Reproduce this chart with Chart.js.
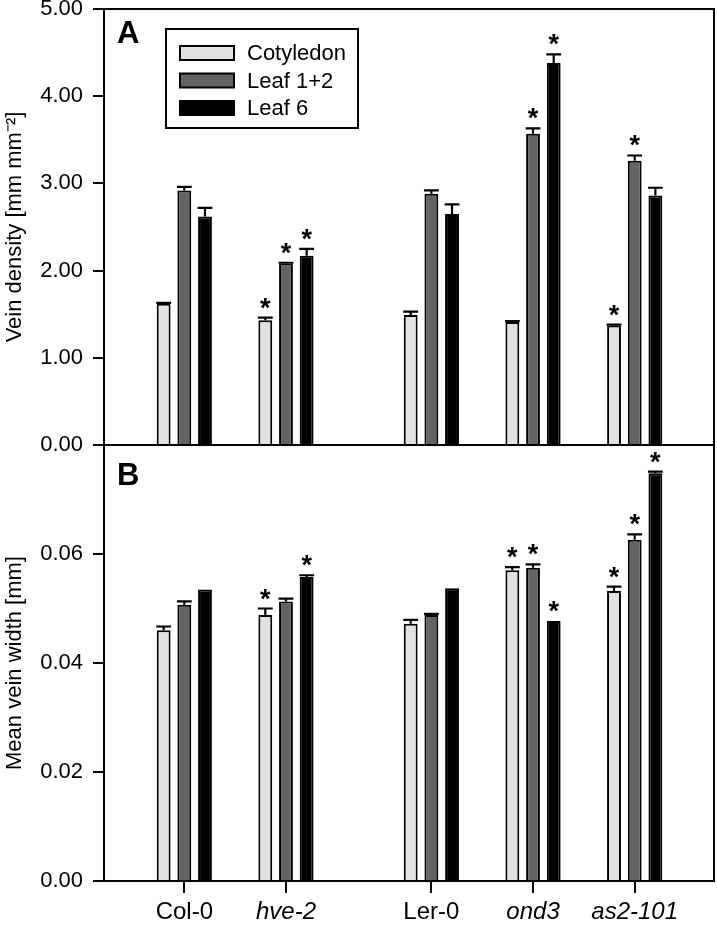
<!DOCTYPE html>
<html>
<head>
<meta charset="utf-8">
<script src="https://cdn.jsdelivr.net/npm/chart.js@4"></script>
<style>
  html, body { margin: 0; background: #fff; overflow: hidden; }
  #wrapA, #wrapB { position: absolute; left: 0; }
  #wrapA { top: 0; }
  #wrapB { top: 430px; }
  canvas { display: block; }
</style>
</head>
<body>
<div id="wrapA"><canvas id="chartA" width="717" height="460"></canvas></div>
<div id="wrapB"><canvas id="chartB" width="717" height="499"></canvas></div>
<script>
// genotypes and series
const groups = ['Col-0', 'hve-2', 'Ler-0', 'ond3', 'as2-101'];
const italicGroup = [false, true, false, true, true];
const series = ['Cotyledon', 'Leaf 1+2', 'Leaf 6'];

// panel A: vein density [mm mm-2]
const densityCot = [1.62, 1.43, 1.49, 1.41, 1.37];
const densityLeaf12 = [2.92, 2.08, 2.88, 3.57, 3.26];
const densityLeaf6 = [2.62, 2.17, 2.65, 4.38, 2.86];
const densityErrCot = [0.01, 0.03, 0.04, 0.01, 0.01];
const densityErrLeaf12 = [0.04, 0.01, 0.04, 0.06, 0.06];
const densityErrLeaf6 = [0.10, 0.08, 0.11, 0.10, 0.09];
const densitySigCot = [0, 1, 0, 0, 1];
const densitySigLeaf12 = [0, 1, 0, 1, 1];
const densitySigLeaf6 = [0, 1, 0, 1, 0];

// panel B: mean vein width [mm]
const widthCot = [0.0460, 0.0488, 0.0472, 0.0570, 0.0532];
const widthLeaf12 = [0.0507, 0.0513, 0.0488, 0.0575, 0.0626];
const widthLeaf6 = [0.0535, 0.0558, 0.0537, 0.0477, 0.0748];
const widthErrCot = [0.0007, 0.0012, 0.0007, 0.0006, 0.0008];
const widthErrLeaf12 = [0.0006, 0.0005, 0.0002, 0.0006, 0.0010];
const widthErrLeaf6 = [0, 0.0003, 0, 0, 0.0003];
const widthSigCot = [0, 1, 0, 1, 1];
const widthSigLeaf12 = [0, 0, 0, 1, 1];
const widthSigLeaf6 = [0, 1, 0, 1, 1];

// x position of each genotype (wider gap between the two backgrounds)
const groupX = [0, 1, 2.43, 3.43, 4.43];

const FONT = 'Liberation Sans, Arial, sans-serif';
const fills = ['#e1e1e1', '#636363', '#000000'];

function makeDatasets(vals, errs, sigs) {
  return vals.map((v, s) => ({
    label: series[s],
    data: v.map((y, i) => ({ x: groupX[i], y: y })),
    errors: errs[s],
    sig: sigs[s],
    backgroundColor: fills[s],
    borderColor: '#000',
    borderWidth: 2,
    categoryPercentage: 0.61,
    barPercentage: 0.67
  }));
}

const errorBars = {
  id: 'errorBars',
  afterDatasetsDraw(chart) {
    const ctx = chart.ctx;
    const yScale = chart.scales.y;
    ctx.save();
    ctx.strokeStyle = '#000';
    ctx.fillStyle = '#000';
    ctx.lineWidth = 2.2;
    chart.data.datasets.forEach((ds, di) => {
      const meta = chart.getDatasetMeta(di);
      meta.data.forEach((bar, i) => {
        const p = bar.getProps(['x', 'y', 'width'], true);
        const top = ds.data[i].y + ds.errors[i];
        const yTop = yScale.getPixelForValue(top);
        if (ds.errors[i] > 0) {
          const hw = p.width / 2 + 0.5;
          ctx.beginPath();
          ctx.moveTo(p.x, p.y);
          ctx.lineTo(p.x, yTop);
          ctx.moveTo(p.x - hw, yTop);
          ctx.lineTo(p.x + hw, yTop);
          ctx.stroke();
        }
        if (ds.sig[i]) {
          ctx.font = 'bold 27px ' + FONT;
          ctx.textAlign = 'center';
          ctx.textBaseline = 'alphabetic';
          ctx.fillText('*', p.x, yTop - 1);
        }
      });
    });
    ctx.restore();
  }
};

const frame = {
  id: 'frame',
  afterDraw(chart, args, opts) {
    const a = chart.chartArea;
    const ctx = chart.ctx;
    ctx.save();
    ctx.strokeStyle = '#000';
    ctx.lineWidth = 2;
    ctx.strokeRect(a.left, a.top, a.right - a.left, a.bottom - a.top);
    ctx.fillStyle = '#000';
    ctx.font = 'bold 31px ' + FONT;
    ctx.textAlign = 'left';
    ctx.textBaseline = 'alphabetic';
    ctx.fillText(opts.letter, a.left + 13, a.top + opts.letterDy);
    ctx.restore();
  }
};

const boxLegend = {
  id: 'boxLegend',
  afterDraw(chart, args, opts) {
    if (!opts.show) return;
    const a = chart.chartArea;
    const ctx = chart.ctx;
    const x0 = a.left + 62, y0 = a.top + 20;
    ctx.save();
    ctx.strokeStyle = '#000';
    ctx.lineWidth = 2;
    ctx.strokeRect(x0, y0, 192, 99);
    ctx.font = '22px ' + FONT;
    ctx.textBaseline = 'middle';
    ctx.textAlign = 'left';
    chart.data.datasets.forEach((ds, i) => {
      const cy = y0 + 24 + i * 27.5;
      ctx.fillStyle = ds.backgroundColor;
      ctx.fillRect(x0 + 14, cy - 7, 54, 14);
      ctx.strokeRect(x0 + 14, cy - 7, 54, 14);
      ctx.fillStyle = '#000';
      ctx.fillText(ds.label, x0 + 81, cy + 1);
    });
    ctx.restore();
  }
};

function yAxis(max, step, title, hideTop) {
  return {
    min: 0, max: max,
    afterFit(scale) {
      scale.width = 104;
      scale.paddingTop = 0;
      scale.paddingBottom = 0;
    },
    ticks: {
      stepSize: step,
      color: '#000',
      padding: 10,
      font: { family: FONT, size: 22 },
      callback: (v) => (hideTop && Math.abs(v - max) < 1e-9) ? '' : v.toFixed(2)
    },
    grid: { drawOnChartArea: false, color: '#000', lineWidth: 2, tickLength: 11 },
    border: { display: true, color: '#000', width: 2 },
    title: { display: true, text: title, color: '#000', font: { family: FONT, size: 22 }, padding: { top: 2, bottom: 0 } }
  };
}

function xAxis(show) {
  return {
    type: 'linear',
    min: -0.79, max: 5.21,
    offset: false,
    bounds: 'data',
    display: show,
    afterBuildTicks(scale) {
      scale.ticks = groupX.map(v => ({ value: v }));
    },
    afterFit(scale) {
      if (show) scale.height = 40;
      scale.paddingLeft = 0;
      scale.paddingRight = 0;
    },
    ticks: {
      autoSkip: false,
      maxRotation: 0,
      color: '#000',
      padding: 5,
      font: (c) => ({ family: FONT, size: 24, style: italicGroup[c.index] ? 'italic' : 'normal' }),
      callback: (v, i) => groups[i]
    },
    grid: { drawOnChartArea: false, offset: false, color: '#000', lineWidth: 2, tickLength: 12 },
    border: { display: false }
  };
}

function baseOptions(letter, letterDy, legend, yOpts, showX, pad) {
  return {
    responsive: false,
    animation: false,
    devicePixelRatio: 1,
    layout: { padding: pad },
    plugins: {
      legend: { display: false },
      tooltip: { enabled: false },
      frame: { letter: letter, letterDy: letterDy },
      boxLegend: { show: legend }
    },
    scales: { x: xAxis(showX), y: yOpts }
  };
}

new Chart(document.getElementById('chartA'), {
  type: 'bar',
  data: {
    datasets: makeDatasets(
      [densityCot, densityLeaf12, densityLeaf6],
      [densityErrCot, densityErrLeaf12, densityErrLeaf6],
      [densitySigCot, densitySigLeaf12, densitySigLeaf6])
  },
  options: baseOptions('A', 34, true, yAxis(5, 1, 'Vein density [mm mm\u207B\u00B2]', false), false,
    { top: 9, right: 3, bottom: 15, left: 0 }),
  plugins: [errorBars, frame, boxLegend]
});

new Chart(document.getElementById('chartB'), {
  type: 'bar',
  data: {
    datasets: makeDatasets(
      [widthCot, widthLeaf12, widthLeaf6],
      [widthErrCot, widthErrLeaf12, widthErrLeaf6],
      [widthSigCot, widthSigLeaf12, widthSigLeaf6])
  },
  options: baseOptions('B', 40, false, yAxis(0.08, 0.02, 'Mean vein width [mm]', true), true,
    { top: 15, right: 3, bottom: 8, left: 0 }),
  plugins: [errorBars, frame, boxLegend]
});
</script>
</body>
</html>
